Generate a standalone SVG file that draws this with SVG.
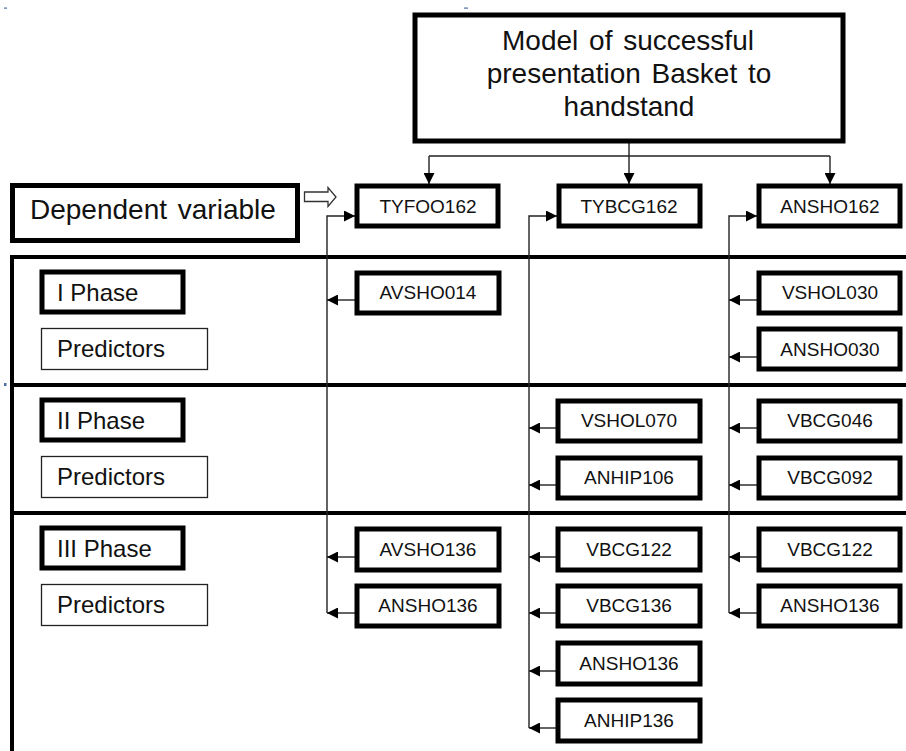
<svg xmlns="http://www.w3.org/2000/svg" width="906" height="751" viewBox="0 0 906 751">
<style>
.tb{fill:#fff;stroke:#000;stroke-width:5}
.thin{fill:#fff;stroke:#222;stroke-width:1.3}
.t{font-family:"Liberation Sans",Arial,sans-serif;fill:#111}
.v{font-size:19px;text-anchor:middle}
.ph{font-size:24px}
.ln{fill:none;stroke:#222;stroke-width:1.4}
.fr{fill:none;stroke:#000;stroke-width:4}
</style>
<defs>
<marker id="ah" markerWidth="11" markerHeight="11" refX="11" refY="5.5" orient="auto" markerUnits="userSpaceOnUse">
<path d="M0,0 L11,5.5 L0,11 Z" fill="#000"/>
</marker>
</defs>
<rect width="906" height="751" fill="#fff"/>
<rect x="4" y="7.5" width="3" height="1.2" fill="#4a6fa5"/>
<rect x="464" y="7.5" width="4" height="1.2" fill="#4a6fa5"/>
<rect x="4" y="383" width="2.5" height="3" fill="#4a6fa5"/>

<g id="frame">
<path class="fr" d="M12,751 V257 H906"/>
<line class="fr" x1="12" y1="385" x2="906" y2="385"/>
<line class="fr" x1="12" y1="513" x2="906" y2="513"/>
</g>

<g id="connectors">
<path class="ln" d="M629,143 V156"/>
<path class="ln" d="M429,156 H830"/>
<path class="ln" d="M429,156 V184" marker-end="url(#ah)"/>
<path class="ln" d="M629,156 V184" marker-end="url(#ah)"/>
<path class="ln" d="M830,156 V184" marker-end="url(#ah)"/>
<path class="ln" d="M327,613 V216 H355" marker-end="url(#ah)"/>
<path class="ln" d="M529,728 V216 H557" marker-end="url(#ah)"/>
<path class="ln" d="M729,613 V216 H757" marker-end="url(#ah)"/>
<path class="ln" d="M355,300 H327" marker-end="url(#ah)"/>
<path class="ln" d="M355,557 H327" marker-end="url(#ah)"/>
<path class="ln" d="M355,613 H327" marker-end="url(#ah)"/>
<path class="ln" d="M556,428 H529" marker-end="url(#ah)"/>
<path class="ln" d="M556,485 H529" marker-end="url(#ah)"/>
<path class="ln" d="M556,557 H529" marker-end="url(#ah)"/>
<path class="ln" d="M556,613 H529" marker-end="url(#ah)"/>
<path class="ln" d="M556,671 H529" marker-end="url(#ah)"/>
<path class="ln" d="M556,728 H529" marker-end="url(#ah)"/>
<path class="ln" d="M757,300 H729" marker-end="url(#ah)"/>
<path class="ln" d="M757,357 H729" marker-end="url(#ah)"/>
<path class="ln" d="M757,428 H729" marker-end="url(#ah)"/>
<path class="ln" d="M757,485 H729" marker-end="url(#ah)"/>
<path class="ln" d="M757,557 H729" marker-end="url(#ah)"/>
<path class="ln" d="M757,613 H729" marker-end="url(#ah)"/>
<path id="hollow-arrow" d="M304.5,192 H328 V187.5 L336,197 L328,206.5 V201.5 H304.5 Z" fill="#fff" stroke="#333" stroke-width="1.3"/>
</g>

<g id="title">
<rect class="tb" x="415" y="15" width="428" height="126"/>
<text class="t" font-size="28" text-anchor="middle" x="628" y="50" word-spacing="3">Model of successful</text>
<text class="t" font-size="28" text-anchor="middle" x="629" y="83" word-spacing="3">presentation Basket to</text>
<text class="t" font-size="28" text-anchor="middle" x="629" y="116">handstand</text>
</g>

<g id="dependent-variable">
<rect x="12.5" y="185.5" width="285" height="55" fill="#fff" stroke="#000" stroke-width="5"/>
<text class="t" font-size="28" x="30" y="219" word-spacing="3">Dependent variable</text>
</g>

<g id="TYFOO162"><rect class="tb" x="357" y="186" width="141" height="40"/><text class="t v" x="428" y="213">TYFOO162</text></g>
<g id="TYBCG162"><rect class="tb" x="559" y="186" width="141" height="40"/><text class="t v" x="629" y="213">TYBCG162</text></g>
<g id="ANSHO162"><rect class="tb" x="759" y="186" width="141" height="40"/><text class="t v" x="830" y="213">ANSHO162</text></g>

<g id="phase1"><rect class="tb" x="42" y="272" width="141" height="40"/><text class="t ph" x="57" y="301">I Phase</text></g>
<g id="predictors1"><rect class="thin" x="41.5" y="328.5" width="166" height="41"/><text class="t ph" x="57" y="357">Predictors</text></g>
<g id="phase2"><rect class="tb" x="42" y="400" width="141" height="40"/><text class="t ph" x="57" y="429">II Phase</text></g>
<g id="predictors2"><rect class="thin" x="41.5" y="456.5" width="166" height="41"/><text class="t ph" x="57" y="485">Predictors</text></g>
<g id="phase3"><rect class="tb" x="42" y="528" width="141" height="40"/><text class="t ph" x="57" y="557">III Phase</text></g>
<g id="predictors3"><rect class="thin" x="41.5" y="584.5" width="166" height="41"/><text class="t ph" x="57" y="613">Predictors</text></g>

<g id="AVSHO014"><rect class="tb" x="357" y="273" width="142" height="40"/><text class="t v" x="428" y="299">AVSHO014</text></g>
<g id="AVSHO136"><rect class="tb" x="357" y="529" width="142" height="41"/><text class="t v" x="428" y="556">AVSHO136</text></g>
<g id="ANSHO136-a"><rect class="tb" x="357" y="586" width="142" height="40"/><text class="t v" x="428" y="612">ANSHO136</text></g>

<g id="VSHOL070"><rect class="tb" x="558" y="401" width="142" height="40"/><text class="t v" x="629" y="427">VSHOL070</text></g>
<g id="ANHIP106"><rect class="tb" x="558" y="458" width="142" height="40"/><text class="t v" x="629" y="484">ANHIP106</text></g>
<g id="VBCG122-b"><rect class="tb" x="558" y="529" width="142" height="41"/><text class="t v" x="629" y="556">VBCG122</text></g>
<g id="VBCG136"><rect class="tb" x="558" y="586" width="142" height="40"/><text class="t v" x="629" y="612">VBCG136</text></g>
<g id="ANSHO136-b"><rect class="tb" x="558" y="643" width="142" height="41"/><text class="t v" x="629" y="670">ANSHO136</text></g>
<g id="ANHIP136"><rect class="tb" x="558" y="700" width="142" height="41"/><text class="t v" x="629" y="727">ANHIP136</text></g>

<g id="VSHOL030"><rect class="tb" x="759" y="273" width="141" height="40"/><text class="t v" x="830" y="299">VSHOL030</text></g>
<g id="ANSHO030"><rect class="tb" x="759" y="329" width="141" height="40"/><text class="t v" x="830" y="356">ANSHO030</text></g>
<g id="VBCG046"><rect class="tb" x="759" y="401" width="141" height="40"/><text class="t v" x="830" y="427">VBCG046</text></g>
<g id="VBCG092"><rect class="tb" x="759" y="458" width="141" height="40"/><text class="t v" x="830" y="484">VBCG092</text></g>
<g id="VBCG122-c"><rect class="tb" x="759" y="529" width="141" height="41"/><text class="t v" x="830" y="556">VBCG122</text></g>
<g id="ANSHO136-c"><rect class="tb" x="759" y="586" width="141" height="40"/><text class="t v" x="830" y="612">ANSHO136</text></g>
</svg>
